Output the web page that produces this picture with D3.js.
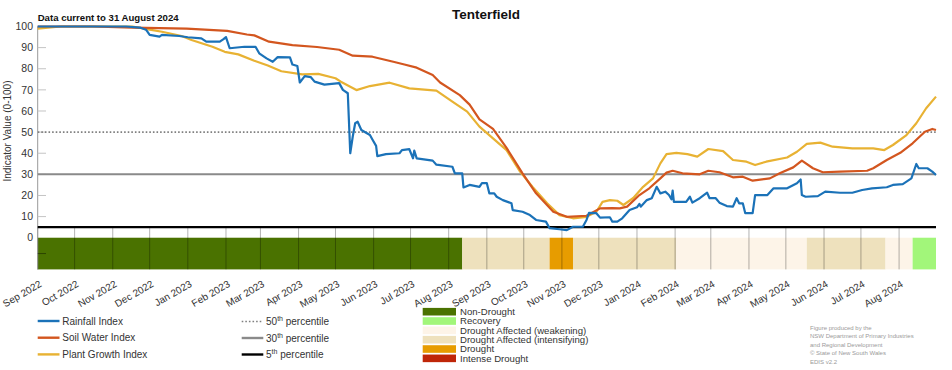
<!DOCTYPE html>
<html>
<head>
<meta charset="utf-8">
<script src="https://cdn.jsdelivr.net/npm/d3@7"></script>
<style>
  body { margin: 0; background: #fff; }
  svg text { font-family: "Liberation Sans", Arial, sans-serif; }
</style>
</head>
<body>
<svg id="chart" width="952" height="370"></svg>
<script>
/*
 * Tenterfield drought indicators, Sep 2022 - Aug 2024.
 */

var startDate = '2022-09-01';
var endDate = '2024-08-31';

// Rainfall Index (blue)
var rainfall = [
  ['2022-09-01', 100], ['2022-11-12', 100], ['2022-11-23', 99.5], ['2022-11-28', 98.5],
  ['2022-12-01', 96], ['2022-12-09', 95.2], ['2022-12-11', 96], ['2022-12-25', 95.5],
  ['2023-01-01', 94.9], ['2023-01-12', 94.4], ['2023-01-16', 92.8], ['2023-01-27', 92.8],
  ['2023-01-30', 94], ['2023-02-01', 95], ['2023-02-04', 89.7], ['2023-02-16', 90.4],
  ['2023-02-25', 90.4], ['2023-02-28', 87.3], ['2023-03-06', 84.9], ['2023-03-11', 83.3],
  ['2023-03-15', 85.5], ['2023-03-25', 85.4], ['2023-03-27', 82], ['2023-03-31', 81.3],
  ['2023-04-02', 73.5], ['2023-04-06', 76.5], ['2023-04-11', 76], ['2023-04-14', 73.9],
  ['2023-04-22', 72.5], ['2023-05-04', 73.2], ['2023-05-07', 70], ['2023-05-11', 68.4],
  ['2023-05-13', 40], ['2023-05-15', 47.8], ['2023-05-17', 54.2], ['2023-05-19', 54.9],
  ['2023-05-22', 51], ['2023-05-29', 48.6], ['2023-05-31', 46.5], ['2023-06-03', 43.5],
  ['2023-06-04', 38.6], ['2023-06-11', 39.6], ['2023-06-22', 40], ['2023-06-24', 41.5],
  ['2023-06-30', 41.9], ['2023-07-03', 37.6], ['2023-07-04', 41.2], ['2023-07-06', 37.6],
  ['2023-07-19', 36.5], ['2023-07-22', 34.6], ['2023-08-04', 33.6], ['2023-08-06', 30.5],
  ['2023-08-12', 30.5], ['2023-08-13', 23.8], ['2023-08-18', 25], ['2023-08-26', 24.1],
  ['2023-08-28', 25.8], ['2023-09-01', 25.8], ['2023-09-03', 21], ['2023-09-07', 21],
  ['2023-09-09', 19.4], ['2023-09-14', 17.8], ['2023-09-21', 16.3], ['2023-09-22', 13.1],
  ['2023-09-30', 12.3], ['2023-10-06', 10.7], ['2023-10-11', 8.4], ['2023-10-19', 7.6],
  ['2023-10-22', 4.5], ['2023-10-30', 4], ['2023-11-05', 3.6], ['2023-11-10', 5.2],
  ['2023-11-18', 5.2], ['2023-11-21', 8.4], ['2023-11-23', 11.8], ['2023-11-29', 11.6],
  ['2023-12-02', 9.5], ['2023-12-10', 9.7], ['2023-12-12', 7.6], ['2023-12-16', 7.6],
  ['2023-12-20', 9.2], ['2023-12-26', 13.1], ['2024-01-01', 14.4], ['2024-01-03', 16],
  ['2024-01-04', 14.7], ['2024-01-09', 17.8], ['2024-01-13', 18.7], ['2024-01-17', 24.1],
  ['2024-01-20', 21], ['2024-01-24', 21.8], ['2024-01-27', 20.2], ['2024-01-29', 18.2],
  ['2024-01-30', 22.3], ['2024-01-31', 17], ['2024-02-10', 17], ['2024-02-13', 19.4],
  ['2024-02-15', 16.6], ['2024-02-21', 18.7], ['2024-02-27', 21.3], ['2024-02-29', 18.7],
  ['2024-03-05', 18.7], ['2024-03-08', 16.6], ['2024-03-14', 15], ['2024-03-19', 14.7],
  ['2024-03-22', 18.7], ['2024-03-24', 16.3], ['2024-03-27', 16.3], ['2024-03-29', 11.6],
  ['2024-04-04', 11.6], ['2024-04-06', 20.2], ['2024-04-16', 20.2], ['2024-04-21', 23.4],
  ['2024-05-02', 23.4], ['2024-05-10', 25.8], ['2024-05-13', 27.6], ['2024-05-14', 20.2],
  ['2024-05-17', 19.4], ['2024-05-27', 19.7], ['2024-06-02', 21.8], ['2024-06-14', 21.3],
  ['2024-06-24', 21.3], ['2024-07-02', 22.6], ['2024-07-10', 23.4], ['2024-07-22', 23.9],
  ['2024-07-27', 25], ['2024-08-04', 25.4], ['2024-08-11', 28.1], ['2024-08-15', 34.9],
  ['2024-08-17', 32.9], ['2024-08-24', 32.9], ['2024-08-28', 31.3], ['2024-08-31', 29.7]
];

// Soil Water Index (orange)
var soilWater = [
  ['2022-09-01', 100], ['2022-10-15', 100], ['2022-11-17', 99.5], ['2022-12-31', 99],
  ['2023-02-02', 97.9], ['2023-02-18', 96.2], ['2023-02-24', 95.8], ['2023-03-08', 92.8],
  ['2023-03-27', 91.2], ['2023-04-16', 90.3], ['2023-05-04', 89], ['2023-05-15', 86.2],
  ['2023-05-31', 85.7], ['2023-06-17', 83.3], ['2023-06-26', 82], ['2023-07-06', 80.5],
  ['2023-07-19', 77], ['2023-07-25', 73.5], ['2023-08-10', 67.5], ['2023-08-18', 63],
  ['2023-08-26', 56], ['2023-09-06', 51.5], ['2023-09-17', 42.5], ['2023-09-30', 30.5],
  ['2023-10-11', 21], ['2023-10-25', 12.3], ['2023-11-05', 9.9], ['2023-11-21', 10.4],
  ['2023-12-02', 13.9], ['2023-12-12', 14], ['2023-12-18', 13.9], ['2023-12-24', 14.7],
  ['2024-01-03', 20.2], ['2024-01-11', 23.4], ['2024-01-20', 28.1], ['2024-01-25', 30.8],
  ['2024-01-30', 31.7], ['2024-02-07', 30.5], ['2024-02-21', 30], ['2024-02-28', 31.7],
  ['2024-03-08', 31], ['2024-03-19', 28.6], ['2024-03-27', 28.9], ['2024-04-04', 27],
  ['2024-04-18', 28.1], ['2024-04-26', 30.5], ['2024-05-07', 33.3], ['2024-05-14', 36.5],
  ['2024-05-23', 32.9], ['2024-05-31', 31], ['2024-06-14', 31.3], ['2024-07-06', 31.7],
  ['2024-07-11', 32.9], ['2024-07-22', 36.8], ['2024-08-02', 40.2], ['2024-08-12', 44.7],
  ['2024-08-22', 50.2], ['2024-08-28', 51.5], ['2024-08-31', 51]
];

// Plant Growth Index (yellow)
var plantGrowth = [
  ['2022-09-01', 99], ['2022-09-20', 100], ['2022-11-17', 100], ['2022-12-01', 98.5],
  ['2022-12-11', 97.5], ['2022-12-27', 95.5], ['2023-01-04', 93.6], ['2023-01-21', 90.4],
  ['2023-01-31', 88], ['2023-02-11', 86.8], ['2023-02-24', 83.8], ['2023-03-07', 81.5],
  ['2023-03-18', 78.8], ['2023-04-04', 77.3], ['2023-04-17', 77.6], ['2023-05-01', 75.5],
  ['2023-05-05', 74], ['2023-05-13', 71.5], ['2023-05-18', 69.9], ['2023-05-29', 71.8],
  ['2023-06-14', 73.4], ['2023-06-30', 70.7], ['2023-07-22', 69.6], ['2023-08-04', 64.4],
  ['2023-08-16', 59.7], ['2023-08-26', 52.6], ['2023-09-06', 47], ['2023-09-17', 41.5],
  ['2023-09-28', 31.3], ['2023-10-08', 24.1], ['2023-10-20', 16.3], ['2023-10-30', 10.7],
  ['2023-11-10', 9.2], ['2023-11-21', 9.9], ['2023-11-29', 12.3], ['2023-12-04', 17],
  ['2023-12-10', 17.8], ['2023-12-16', 17.5], ['2023-12-21', 15.5], ['2023-12-29', 18.8],
  ['2024-01-06', 24.1], ['2024-01-14', 28.1], ['2024-01-20', 35.2], ['2024-01-25', 39.6],
  ['2024-02-02', 40.2], ['2024-02-11', 39.6], ['2024-02-19', 38.4], ['2024-02-28', 42],
  ['2024-03-11', 41], ['2024-03-19', 36.8], ['2024-03-30', 36], ['2024-04-06', 34.4],
  ['2024-04-15', 36], ['2024-05-02', 38], ['2024-05-10', 40.7], ['2024-05-18', 44.4],
  ['2024-05-29', 45], ['2024-06-08', 43.1], ['2024-06-24', 42.3], ['2024-07-11', 42.3],
  ['2024-07-20', 41.5], ['2024-07-27', 43.9], ['2024-08-07', 48.6], ['2024-08-15', 54.2],
  ['2024-08-23', 61.3], ['2024-08-31', 66.8]
];

// Drought category band underneath the chart
var bandStarts = ['2022-09-01', '2023-08-12', '2023-10-22', '2023-11-10', '2024-02-02',
                  '2024-05-18', '2024-07-21', '2024-08-12'];
var bandCategories = ['Non-Drought', 'Drought Affected (intensifying)', 'Drought',
                      'Drought Affected (intensifying)', 'Drought Affected (weakening)',
                      'Drought Affected (intensifying)', 'Drought Affected (weakening)', 'Recovery'];

var categoryNames = ['Non-Drought', 'Recovery', 'Drought Affected (weakening)',
                     'Drought Affected (intensifying)', 'Drought', 'Intense Drought'];
var categoryColors = ['#4a7200', '#a2f67a', '#fdf4e8', '#eee1bd', '#e79c00', '#bf2608'];

var yTicks = [0, 10, 20, 30, 40, 50, 60, 70, 80, 90, 100];
var percentiles = [50, 30, 5];

var seriesNames = ['Rainfall Index', 'Soil Water Index', 'Plant Growth Index'];
var seriesColors = ['#1b72b8', '#d3561f', '#e8b233'];

var credits = ['Figure produced by the', 'NSW Department of Primary Industries',
               'and Regional Development', '\u00a9 State of New South Wales', 'EDIS v2.2'];

function render() {
  'use strict';
  var parseDate = d3.timeParse('%Y-%m-%d');
  var svg = d3.select('#chart');

  var x = d3.scaleTime()
    .domain([parseDate(startDate), parseDate(endDate)])
    .range([37.7, 936]);
  var y = d3.scaleLinear().domain([-15, 100]).range([269.4, 26.5]);
  var color = d3.scaleOrdinal().domain(categoryNames).range(categoryColors);

  // Category band
  var segs = bandStarts.map(function(s, i) {
    return {
      start: parseDate(s),
      stop: parseDate(i < bandStarts.length - 1 ? bandStarts[i + 1] : endDate),
      cat: bandCategories[i]
    };
  });
  svg.append('g').selectAll('rect')
    .data(segs)
    .enter()
    .append('rect')
      .attr('x', function(d) { return x(d.start); })
      .attr('width', function(d) { return x(d.stop) - x(d.start); })
      .attr('y', y(0))
      .attr('height', y(-15) - y(0))
      .attr('fill', function(d) { return color(d.cat); });

  // Month grid lines (only below the 5th percentile line)
  var months = d3.timeMonth.range(parseDate(startDate), d3.timeDay.offset(parseDate(endDate), 1));
  svg.append('g').selectAll('line')
    .data(months)
    .enter()
    .append('line')
      .attr('x1', function(d) { return x(d); })
      .attr('x2', function(d) { return x(d); })
      .attr('y1', y(5))
      .attr('y2', y(-15))
      .attr('stroke', 'rgba(0,0,0,0.3)')
      .attr('stroke-width', 1);

  // Month labels
  var fmt = d3.timeFormat('%b %Y');
  svg.append('g').selectAll('text')
    .data(months)
    .enter()
    .append('text')
      .attr('transform', function(d) { return 'translate(' + (x(d) + 3) + ',283) rotate(-30)'; })
      .attr('text-anchor', 'end')
      .attr('dy', '0.35em')
      .attr('font-size', 10)
      .attr('fill', '#333')
      .text(fmt);

  // Y axis
  var yAxis = svg.append('g');
  yAxis.append('line')
    .attr('x1', 37.7).attr('x2', 37.7)
    .attr('y1', y(100)).attr('y2', y(-15))
    .attr('stroke', '#999');
  yAxis.selectAll('.tick')
    .data(yTicks.filter(function(v) { return v > 0; }))
    .enter()
    .append('line')
      .attr('x1', 37.7).attr('x2', 46)
      .attr('y1', function(d) { return y(d); })
      .attr('y2', function(d) { return y(d); })
      .attr('stroke', '#c4c4c4');
  yAxis.append('line')
    .attr('x1', 37.7).attr('x2', 46)
    .attr('y1', y(-7.5)).attr('y2', y(-7.5))
    .attr('stroke', 'rgba(0,0,0,0.4)');
  yAxis.selectAll('text')
    .data(yTicks)
    .enter()
    .append('text')
      .attr('x', 33)
      .attr('y', function(d) { return y(d); })
      .attr('dy', '0.35em')
      .attr('text-anchor', 'end')
      .attr('font-size', 10.5)
      .attr('fill', '#333')
      .text(function(d) { return d; });
  svg.append('text')
    .attr('transform', 'translate(11,131) rotate(-90)')
    .attr('text-anchor', 'middle')
    .attr('font-size', 10)
    .attr('fill', '#333')
    .text('Indicator Value (0-100)');

  // Percentile reference lines
  var pStyles = [
    { stroke: '#808080', width: 1.6, dash: '1.6,2' },
    { stroke: '#8a8a8a', width: 2, dash: null },
    { stroke: '#000', width: 2.4, dash: null }
  ];
  svg.append('g').selectAll('line')
    .data(percentiles)
    .enter()
    .append('line')
      .attr('x1', 37.7).attr('x2', 936)
      .attr('y1', function(d) { return y(d); })
      .attr('y2', function(d) { return y(d); })
      .attr('stroke', function(d, i) { return pStyles[i].stroke; })
      .attr('stroke-width', function(d, i) { return pStyles[i].width; })
      .attr('stroke-dasharray', function(d, i) { return pStyles[i].dash; });

  // Series lines
  var line = d3.line()
    .x(function(d) { return x(parseDate(d[0])); })
    .y(function(d) { return y(d[1]); });
  var series = [rainfall, soilWater, plantGrowth];
  // draw rainfall on top, like the original
  [2, 1, 0].forEach(function(i) {
    svg.append('path')
      .datum(series[i])
      .attr('fill', 'none')
      .attr('stroke', seriesColors[i])
      .attr('stroke-width', 2.2)
      .attr('stroke-linejoin', 'round')
      .attr('d', line);
  });

  // Titles
  svg.append('text')
    .attr('x', 486).attr('y', 18.5)
    .attr('text-anchor', 'middle')
    .attr('font-size', 13.5)
    .attr('font-weight', 'bold')
    .attr('fill', '#111')
    .text('Tenterfield');
  svg.append('text')
    .attr('x', 37.7).attr('y', 20.5)
    .attr('font-size', 9.6)
    .attr('font-weight', 'bold')
    .attr('fill', '#111')
    .text('Data current to 31 August 2024');

  // Series legend
  var leg = svg.append('g');
  seriesNames.forEach(function(name, i) {
    var ly = 321 + i * 16.7;
    leg.append('line')
      .attr('x1', 37.7).attr('x2', 59.5)
      .attr('y1', ly).attr('y2', ly)
      .attr('stroke', seriesColors[i])
      .attr('stroke-width', 2.4);
    leg.append('text')
      .attr('x', 62.3).attr('y', ly)
      .attr('dy', '0.35em')
      .attr('font-size', 10)
      .attr('fill', '#333')
      .text(name);
  });

  // Percentile legend
  percentiles.forEach(function(p, i) {
    var ly = 321.5 + i * 16.5;
    leg.append('line')
      .attr('x1', 241.7).attr('x2', 263.3)
      .attr('y1', ly).attr('y2', ly)
      .attr('stroke', pStyles[i].stroke)
      .attr('stroke-width', i === 0 ? 1.4 : 2.4)
      .attr('stroke-dasharray', pStyles[i].dash);
    var t = leg.append('text')
      .attr('x', 266).attr('y', ly + 3.8)
      .attr('font-size', 10)
      .attr('fill', '#333');
    t.append('tspan').text(p);
    t.append('tspan').attr('dy', -4).attr('font-size', 7).text('th');
    t.append('tspan').attr('dy', 4).text(' percentile');
  });

  // Category legend
  categoryNames.forEach(function(name, i) {
    var cy = 311.7 + i * 9.33;
    leg.append('rect')
      .attr('x', 422.7).attr('y', cy - 3.8)
      .attr('width', 33.3).attr('height', 7.6)
      .attr('fill', categoryColors[i]);
    leg.append('text')
      .attr('x', 460).attr('y', cy)
      .attr('dy', '0.35em')
      .attr('font-size', 9.6)
      .attr('fill', '#333')
      .text(name);
  });

  // Credits
  svg.append('g').selectAll('text')
    .data(credits)
    .enter()
    .append('text')
      .attr('x', 810)
      .attr('y', function(d, i) { return 329.5 + i * 8.5; })
      .attr('font-size', 6)
      .attr('fill', '#9a9a9a')
      .text(function(d) { return d; });
}

render();
</script>
</body>
</html>
